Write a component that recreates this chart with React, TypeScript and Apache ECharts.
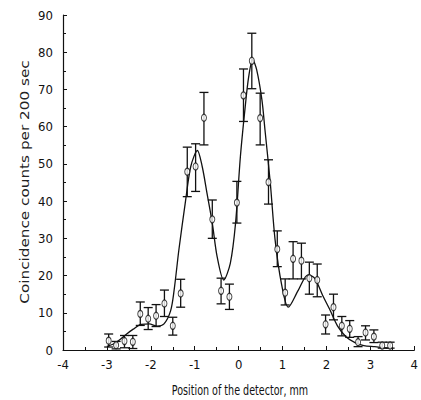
import React, { useEffect, useRef } from "react";
import * as echarts from "echarts";

const posX = [-2.96, -2.79, -2.6, -2.41, -2.24, -2.06, -1.88, -1.69, -1.5, -1.32, -1.17, -0.98, -0.79, -0.6, -0.4, -0.21, -0.04, 0.11, 0.3, 0.49, 0.68, 0.88, 1.06, 1.24, 1.43, 1.61, 1.79, 1.98, 2.16, 2.35, 2.53, 2.72, 2.89, 3.08, 3.27, 3.45];
const counts = [2.5, 1.3, 2.4, 2.2, 9.7, 8.4, 9.2, 12.5, 6.5, 15.2, 47.9, 49.3, 62.4, 35.1, 15.9, 14.3, 39.6, 68.4, 77.7, 62.3, 45.1, 27.1, 15.4, 24.5, 24.0, 19.3, 18.8, 6.9, 11.5, 6.5, 5.7, 2.1, 4.7, 3.6, 1.2, 1.2];
const errLow = [0.8, 0.3, 0.6, 0.4, 6.6, 5.5, 6.3, 9.0, 4.0, 11.5, 41.2, 42.6, 55.1, 30.0, 12.4, 10.9, 34.1, 61.4, 70.2, 55.1, 39.2, 22.4, 12.1, 19.1, 19.1, 15.0, 14.3, 4.3, 8.1, 3.8, 3.4, 0.9, 2.7, 2.0, 0.5, 0.5];
const errHigh = [4.3, 2.3, 3.9, 3.9, 12.9, 11.4, 12.2, 16.1, 8.8, 19.0, 54.5, 55.4, 69.2, 40.3, 19.3, 17.7, 45.3, 75.5, 85.1, 69.0, 51.1, 32.0, 19.1, 29.1, 28.7, 23.6, 23.1, 9.4, 15.0, 9.0, 7.9, 3.6, 6.5, 5.4, 2.1, 2.1];

const fitX = [-3.0, -2.85, -2.7, -2.55, -2.4, -2.22, -2.04, -1.85, -1.7, -1.55, -1.47, -1.36, -1.21, -1.09, -0.94, -0.83, -0.72, -0.6, -0.49, -0.34, -0.19, -0.07, 0.04, 0.15, 0.23, 0.32, 0.41, 0.53, 0.6, 0.72, 0.83, 0.98, 1.13, 1.36, 1.58, 1.73, 1.92, 2.07, 2.25, 2.45, 2.65, 2.85, 3.1, 3.4];
const fitY = [1.0, 1.6, 2.8, 4.3, 5.6, 6.9, 7.0, 6.4, 7.0, 10.5, 16.0, 27.0, 40.0, 49.3, 53.6, 49.3, 42.1, 34.1, 25.1, 18.8, 23.3, 34.1, 52.0, 65.4, 73.5, 78.0, 75.3, 67.2, 59.1, 45.0, 29.6, 17.5, 11.5, 16.1, 20.2, 19.3, 14.5, 11.0, 6.5, 3.5, 2.0, 1.2, 0.9, 0.5];

const yTicks = [0, 90, 10];
const xTicks = [-4, 4, 1];

const tickFont = '"DejaVu Sans Condensed", "Liberation Sans Narrow", sans-serif';

export default function App() {
  const ref = useRef<HTMLDivElement>(null);
  useEffect(() => {
    if (!ref.current) return;
    const chart = echarts.init(ref.current, null, { renderer: "svg" });
    const errData = posX.map((x, i) => [x, errLow[i], errHigh[i]]);
    const pts = posX.map((x, i) => [x, counts[i]]);
    const fit = fitX.map((x, i) => [x, fitY[i]]);
    chart.setOption({
      animation: false,
      backgroundColor: "#ffffff",
      grid: { left: 63, right: 4, top: 15, bottom: 50, containLabel: false },
      xAxis: {
        type: "value",
        min: xTicks[0],
        max: xTicks[1],
        interval: xTicks[2],
        axisLine: { show: true, onZero: false, lineStyle: { color: "#111", width: 1.2 } },
        axisTick: { show: true, inside: true, length: 4, lineStyle: { color: "#111" } },
        minorTick: { show: true, splitNumber: 2, length: 3, lineStyle: { color: "#111" } },
        splitLine: { show: false },
        axisLabel: { color: "#111", fontFamily: tickFont, fontSize: 13, margin: 8 },
      },
      yAxis: {
        type: "value",
        min: yTicks[0],
        max: yTicks[1],
        interval: yTicks[2],
        axisLine: { show: true, onZero: false, lineStyle: { color: "#111", width: 1.2 } },
        axisTick: { show: true, inside: true, length: 4, lineStyle: { color: "#111" } },
        minorTick: { show: true, splitNumber: 2, length: 3, lineStyle: { color: "#111" } },
        splitLine: { show: false },
        axisLabel: { color: "#111", fontFamily: tickFont, fontSize: 13, margin: 10 },
      },
      graphic: [
        {
          type: "text",
          x: 25,
          y: 182,
          rotation: Math.PI / 2,
          scaleX: 1.22,
          style: {
            text: "Coincidence counts per 200 sec",
            fontFamily: '"DejaVu Sans", sans-serif',
            fontSize: 12.5,
            fill: "#222",
            align: "center",
            verticalAlign: "middle",
          },
        },
        {
          type: "text",
          x: 240,
          y: 390,
          scaleX: 0.76,
          style: {
            text: "Position of the detector, mm",
            fontFamily: tickFont,
            fontSize: 14,
            fill: "#111",
            align: "center",
            verticalAlign: "middle",
          },
        },
      ],
      series: [
        {
          type: "line",
          data: fit,
          smooth: 0.3,
          showSymbol: false,
          lineStyle: { color: "#111", width: 1.3 },
          z: 2,
        },
        {
          type: "custom",
          data: errData,
          renderItem: (params: any, api: any) => {
            const x = api.value(0);
            const lo = api.coord([x, api.value(1)]);
            const hi = api.coord([x, api.value(2)]);
            const hw = 4.5;
            const style = { stroke: "#111", lineWidth: 1.3 };
            return {
              type: "group",
              children: [
                { type: "line", shape: { x1: lo[0], y1: lo[1], x2: hi[0], y2: hi[1] }, style },
                { type: "line", shape: { x1: hi[0] - hw, y1: hi[1], x2: hi[0] + hw, y2: hi[1] }, style },
                { type: "line", shape: { x1: lo[0] - hw, y1: lo[1], x2: lo[0] + hw, y2: lo[1] }, style },
              ],
            };
          },
          z: 3,
        },
        {
          type: "scatter",
          data: pts,
          symbol: "circle",
          symbolSize: [5, 7],
          itemStyle: { color: "#ffffff", borderColor: "#111", borderWidth: 1.1 },
          z: 4,
        },
      ],
    });
    return () => chart.dispose();
  }, []);
  return <div ref={ref} style={{ width: 421, height: 400, position: "absolute", left: 0, top: 0 }} />;
}
